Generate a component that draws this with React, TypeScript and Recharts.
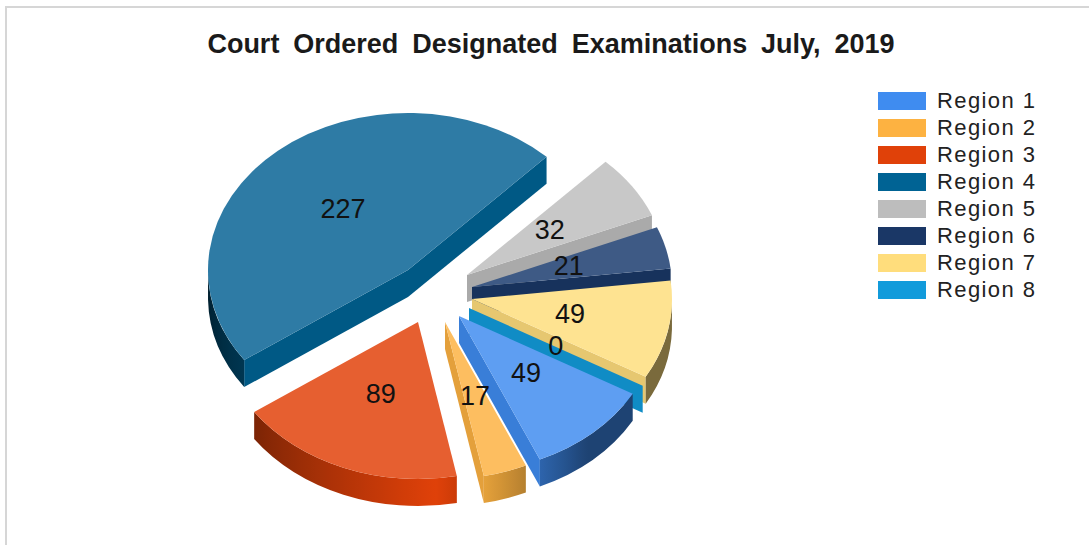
import React from "react";
import { PieChart, Pie, Legend } from "recharts";

const REGIONS = ["Region 1", "Region 2", "Region 3", "Region 4", "Region 5", "Region 6", "Region 7", "Region 8"];
const EXAMS = [49, 17, 89, 227, 32, 21, 49, 0];

const SWATCHES = ["#3f8cf0", "#fdb241", "#e04109", "#006394", "#bdbdbd", "#1a3766", "#ffdd7c", "#129bdb"];
const TOPS = ["#5e9ef2", "#fdbe60", "#e65f30", "#2e7ba5", "#c8c8c8", "#3e5a85", "#fee391", "#119ad8"];

// how far each slice is pulled out of the pie, in px
const PULL_X = [-6, -20, -47, -57, 2, 7, 7, 4];
const PULL_Y = [21, 27, 27, -25, -20, -8, 4, 13];

// painted back to front, so region 4 goes first and the pie starts from it
const PAINT_ORDER = [3, 4, 5, 6, 7, 0, 1, 2];

const TILT = 0.785;
const DEPTH = 27;
const RAD = Math.PI / 180;

const chartData = PAINT_ORDER.map((i) => ({
  name: REGIONS[i],
  value: EXAMS[i],
  region: i,
}));

function shade(hex: string, k: number) {
  const n = parseInt(hex.slice(1), 16);
  const c = [(n >> 16) & 255, (n >> 8) & 255, n & 255].map((v) => Math.round(v * k));
  return `rgb(${c[0]},${c[1]},${c[2]})`;
}

// wall brightness by position round the rim, brightest near the bottom
function wallLight(angle: number) {
  let a = angle % 360;
  if (a > 0) a -= 360;
  if (a < -265) a += 360;
  const d = a + 85;
  return d > 0 ? Math.max(0.48, 1 - d * 0.015) : Math.max(0.3, 1 + d * 0.0075);
}

function Slice(props: any) {
  const { cx, cy, outerRadius: r, startAngle, endAngle, index } = props;
  const region = chartData[index].region;
  const ax = cx + PULL_X[region];
  const ay = cy + PULL_Y[region];
  const ry = r * TILT;
  const px = (deg: number) => ax + r * Math.cos(deg * RAD);
  const py = (deg: number) => ay - ry * Math.sin(deg * RAD);
  const base = SWATCHES[region];
  const gradId = `wall-${region}`;
  const flat = shade(base, 0.9);

  const walls: React.ReactNode[] = [];
  const radialWall = (deg: number, key: string) => (
    <path
      key={key}
      d={`M${ax},${ay} L${px(deg)},${py(deg)} L${px(deg)},${py(deg) + DEPTH} L${ax},${ay + DEPTH} Z`}
      fill={flat}
    />
  );
  if (Math.cos(startAngle * RAD) < 0) walls.push(radialWall(startAngle, "s"));
  if (Math.cos(endAngle * RAD) > 0) walls.push(radialWall(endAngle, "e"));

  // rim: only the part of the arc on the lower half of the ellipse shows
  const rimAngles: number[] = [];
  for (let a = startAngle; a > endAngle; a -= 2) {
    if (Math.sin(a * RAD) <= 0) rimAngles.push(a);
  }
  if (Math.sin(endAngle * RAD) <= 0) rimAngles.push(endAngle);
  let defs = null;
  if (rimAngles.length > 1 && startAngle !== endAngle) {
    const xs = rimAngles.map(px);
    const x0 = Math.min(...xs);
    const x1 = Math.max(...xs);
    const first = rimAngles[0];
    const last = rimAngles[rimAngles.length - 1];
    const sorted = rimAngles.slice().sort((a, b) => px(a) - px(b));
    defs = (
      <linearGradient id={gradId} gradientUnits="userSpaceOnUse" x1={x0} x2={x1} y1={0} y2={0}>
        {sorted.map((a, i) => (
          <stop key={i} offset={(px(a) - x0) / (x1 - x0 || 1)} stopColor={shade(base, wallLight(a))} />
        ))}
      </linearGradient>
    );
    walls.push(
      <path
        key="rim"
        d={`M${px(first)},${py(first)} A${r},${ry} 0 0 1 ${px(last)},${py(last)} L${px(last)},${py(last) + DEPTH} A${r},${ry} 0 0 0 ${px(first)},${py(first) + DEPTH} Z`}
        fill={`url(#${gradId})`}
      />
    );
  }

  const large = startAngle - endAngle > 180 ? 1 : 0;
  return (
    <g>
      {defs && <defs>{defs}</defs>}
      {walls}
      {startAngle !== endAngle && (
        <path
          d={`M${ax},${ay} L${px(startAngle)},${py(startAngle)} A${r},${ry} 0 ${large} 1 ${px(endAngle)},${py(endAngle)} Z`}
          fill={TOPS[region]}
        />
      )}
    </g>
  );
}

function sliceLabel(props: any) {
  const { cx, cy, outerRadius: r, midAngle, index, value } = props;
  const region = chartData[index].region;
  const x = cx + PULL_X[region] + 0.5 * r * Math.cos(midAngle * RAD);
  const y = cy + PULL_Y[region] - 0.5 * r * TILT * Math.sin(midAngle * RAD);
  return (
    <text
      key={region}
      x={x}
      y={y - 1}
      textAnchor="middle"
      dominantBaseline="central"
      fontFamily="Liberation Sans"
      fontSize={27}
      fill="#111"
    >
      {value}
    </text>
  );
}

function renderLegend() {
  return (
    <div>
      {REGIONS.map((name, i) => (
        <div key={name} style={{ display: "flex", alignItems: "center", height: 27 }}>
          <span style={{ width: 48, height: 18, background: SWATCHES[i], marginRight: 11 }} />
          <span
            style={{
              fontFamily: "Liberation Sans",
              fontSize: 22,
              letterSpacing: 1.4,
              color: "#222",
              whiteSpace: "nowrap",
            }}
          >
            {name}
          </span>
        </div>
      ))}
    </div>
  );
}

export default function App() {
  return (
    <div style={{ position: "absolute", left: 0, top: 0, width: 1089, height: 545, background: "#fff", overflow: "hidden" }}>
      <div
        style={{
          position: "absolute",
          left: 5,
          top: 6,
          width: 1084,
          height: 539,
          boxSizing: "border-box",
          borderLeft: "2px solid #d6d6d6",
          borderTop: "2px solid #d6d6d6",
        }}
      />
      <PieChart
        width={1089}
        height={545}
        margin={{ top: 0, right: 0, bottom: 0, left: 0 }}
        style={{ position: "absolute", left: 0, top: 0 }}
      >
        <text
          x={551}
          y={44}
          textAnchor="middle"
          dominantBaseline="central"
          fontFamily="Liberation Sans"
          fontWeight="bold"
          fontSize={27}
          wordSpacing={6.4}
          fill="#1a1a1a"
        >
          Court Ordered Designated Examinations July, 2019
        </text>
        <Pie
          data={chartData}
          dataKey="value"
          nameKey="name"
          cx={465}
          cy={295}
          outerRadius={200}
          startAngle={-145}
          endAngle={-505}
          stroke="none"
          shape={Slice}
          label={sliceLabel}
          labelLine={false}
          isAnimationActive={false}
        />
        <Legend content={renderLegend} wrapperStyle={{ left: 878, top: 87, width: 200 }} />
      </PieChart>
    </div>
  );
}
